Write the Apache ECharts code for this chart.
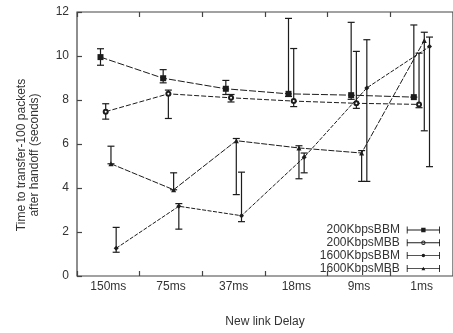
<!DOCTYPE html>
<html><head><meta charset="utf-8">
<script src="https://cdn.jsdelivr.net/npm/echarts@6/dist/echarts.min.js"></script>
<style>html,body{margin:0;padding:0;background:#fff}#c{width:453px;height:333px}</style>
</head><body><div id="c"></div>
<script>
const categories = ['150ms','75ms','37ms','18ms','9ms','1ms'];
const yTicks = [0,2,4,6,8,10,12];

const bbm200     = [9.95, 8.99, 8.51, 8.28, 8.22, 8.13];
const bbm200Low  = [9.58, 8.78, 8.25, 8.16, 8.03, 8.13];
const bbm200High = [10.33, 9.38, 8.89, 11.71, 11.53, 11.41];

const mbb200     = [7.47, 8.28, 8.10, 7.95, 7.85, 7.80];
const mbb200Low  = [7.13, 7.16, 7.91, 7.70, 7.62, 7.65];
const mbb200High = [7.83, 8.45, 8.25, 10.34, 10.21, 10.13];

const bbm1600     = [5.10, 3.92, 6.15, 5.82, 5.59, 10.71];
const bbm1600Low  = [5.10, 3.92, 3.70, 4.42, 4.30, 6.60];
const bbm1600High = [5.90, 4.69, 6.25, 5.92, 5.70, 11.08];

const mbb1600     = [1.26, 3.17, 2.74, 5.40, 8.55, 10.43];
const mbb1600Low  = [1.08, 2.13, 2.47, 4.69, 4.30, 4.97];
const mbb1600High = [2.21, 3.29, 4.72, 5.59, 10.74, 10.86];

const seriesNames = ['200KbpsBBM','200KbpsMBB','1600KbpsBBM','1600KbpsMBB'];
const offsets = [-0.125, -0.042, 0.042, 0.125];
const mains = [bbm200, mbb200, bbm1600, mbb1600];
const lows = [bbm200Low, mbb200Low, bbm1600Low, mbb1600Low];
const highs = [bbm200High, mbb200High, bbm1600High, mbb1600High];

const INK = '#1c1c1c';
const symbols = ['rect','emptyCircle','triangle','diamond'];
const symbolSizes = [6,4,5,5];
const dashes = [[7,2],[5,2],[6,1.5],[4,1.5]];

const capsL = 'M0,0h1v8h-1zM37,0h1v8h-1z';
const icons = [
  'path://' + capsL + 'M0,3.5h38v1h-38zM16.5,1.5h5v5h-5z',
  'path://' + capsL + 'M0,3.5h38v1h-38zM19,1.5a2.5,2.5 0 1,1 0,5a2.5,2.5 0 1,1 0,-5zM19,2.5a1.5,1.5 0 1,0 0,3a1.5,1.5 0 1,0 0,-3z',
  'path://' + capsL + 'M0,3.5h38v1h-38zM19,2a2,2 0 1,1 0,4a2,2 0 1,1 0,-4z',
  'path://' + capsL + 'M0,3.5h38v1h-38zM16.8,6L19,2L21.2,6z'
];

const series = [];
mains.forEach((vals, s) => {
  series.push({
    name: seriesNames[s], type: 'line', xAxisIndex: 2, yAxisIndex: 0,
    data: vals.map((v, i) => [i + offsets[s], v]),
    symbol: symbols[s], symbolSize: symbolSizes[s], showSymbol: true,
    itemStyle: { color: INK, borderColor: INK, borderWidth: s === 1 ? 1 : 0 },
    lineStyle: { color: INK, width: 1, type: dashes[s] },
    z: 3, animation: false, silent: true
  });
  series.push({
    name: seriesNames[s] + '_err', type: 'custom', xAxisIndex: 2, yAxisIndex: 0,
    data: vals.map((v, i) => [i + offsets[s], lows[s][i], highs[s][i]]),
    renderItem: function (params, api) {
      const x = api.value(0);
      const pLo = api.coord([x, api.value(1)]);
      const pHi = api.coord([x, api.value(2)]);
      const w = 3.5;
      const st = { stroke: INK, lineWidth: 1.2 };
      return { type: 'group', children: [
        { type: 'line', shape: { x1: pLo[0], y1: pLo[1], x2: pHi[0], y2: pHi[1] }, style: st },
        { type: 'line', shape: { x1: pLo[0]-w, y1: pLo[1], x2: pLo[0]+w, y2: pLo[1] }, style: st },
        { type: 'line', shape: { x1: pHi[0]-w, y1: pHi[1], x2: pHi[0]+w, y2: pHi[1] }, style: st }
      ]};
    },
    z: 2, animation: false, silent: true
  });
});

const chart = echarts.init(document.getElementById('c'), null, { renderer: 'canvas' });
chart.setOption({
  animation: false,
  backgroundColor: '#fff',
  textStyle: { fontFamily: 'Liberation Sans, Arial, sans-serif' },
  grid: { left: 77, right: -8, top: 12, bottom: 55, show: true, borderColor: '#444', borderWidth: 1.2, backgroundColor: 'transparent' },
  legend: {
    orient: 'vertical', right: 8, top: 219, align: 'right',
    itemWidth: 37, itemHeight: 7, itemGap: 0.8,
    data: seriesNames.map((n, i) => ({ name: n, icon: icons[i] })),
    itemStyle: { borderWidth: 0, color: INK },
    textStyle: { fontSize: 12, lineHeight: 12, color: '#333', fontFamily: 'Liberation Sans, Arial, sans-serif' },
    selectedMode: false
  },
  xAxis: [
    { type: 'category', data: categories, position: 'bottom', boundaryGap: true,
      axisLine: { show: false, onZero: false }, axisTick: { show: true, inside: true, length: 5, lineStyle: { color: '#444', width: 1.2 } },
      axisLabel: { fontSize: 12, color: '#333', margin: 5 },
      splitLine: { show: false },
      name: 'New link Delay', nameLocation: 'middle', nameGap: 40,
      nameTextStyle: { fontSize: 12, color: '#333' } },
    { type: 'category', data: categories, position: 'top', boundaryGap: true,
      axisLine: { show: false, onZero: false }, axisTick: { show: true, inside: true, length: 5, lineStyle: { color: '#444', width: 1.2 } },
      axisLabel: { show: false }, splitLine: { show: false } },
    { type: 'value', min: -0.5, max: 5.5, show: false, axisLine: { onZero: false }, splitLine: { show: false } }
  ],
  yAxis: [
    { type: 'value', min: 0, max: 12, interval: 2, position: 'left',
      axisLine: { show: false, onZero: false }, axisTick: { show: true, inside: true, length: 5, lineStyle: { color: '#444', width: 1.2 } },
      axisLabel: { fontSize: 12, color: '#333', margin: 8, formatter: v => yTicks.includes(v) ? String(v) : '' },
      splitLine: { show: false } }
  ],
  graphic: [
    { type: 'text', x: 28, y: 155, rotation: Math.PI / 2,
      style: { text: 'Time to transfer-100 packets\nafter handoff (seconds)', fontSize: 12, lineHeight: 13,
        fill: '#333', align: 'center', verticalAlign: 'middle', fontFamily: 'Liberation Sans, Arial, sans-serif' } }
  ],
  series: series
});
</script></body></html>
